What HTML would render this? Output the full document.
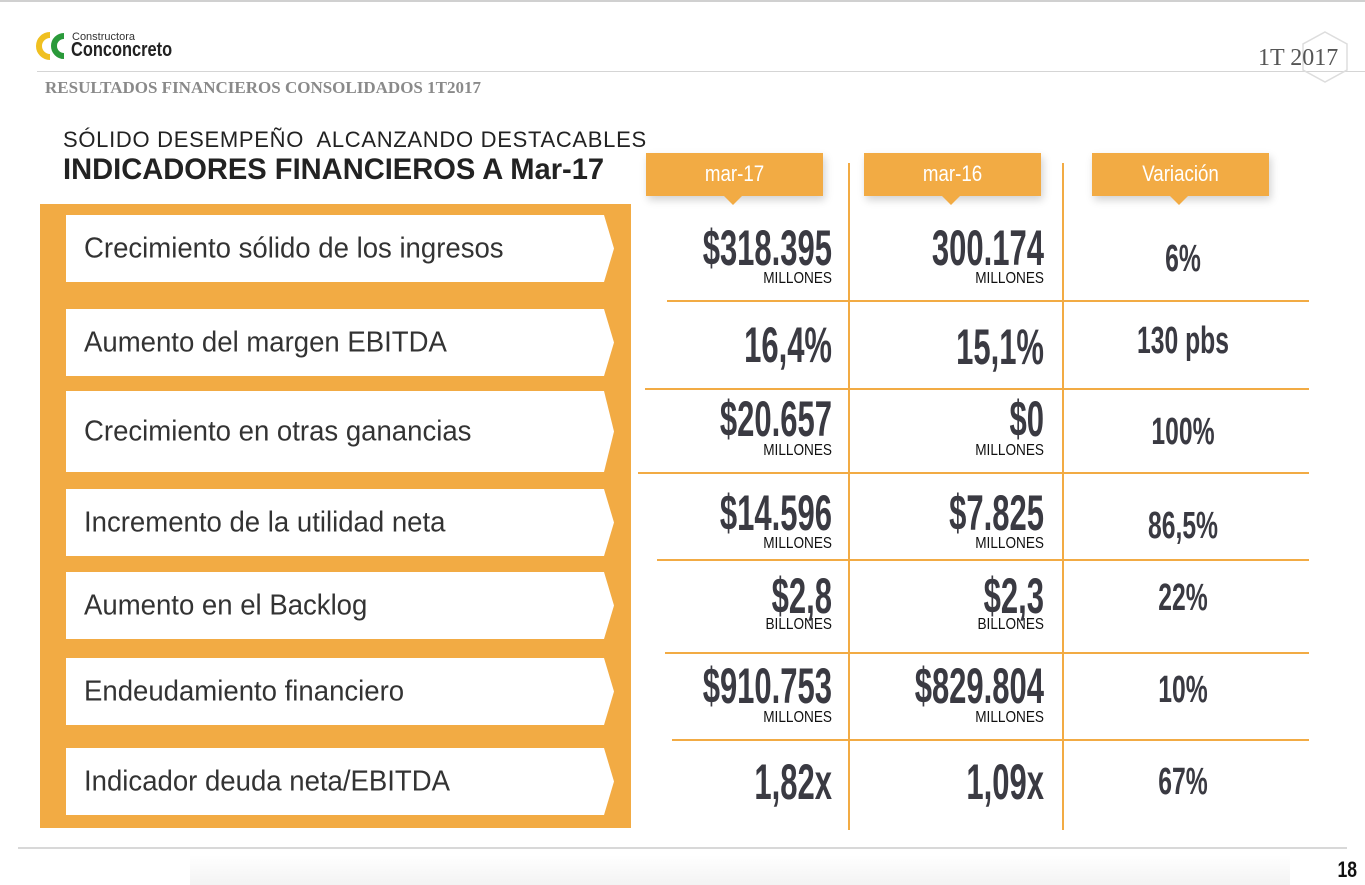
<!DOCTYPE html>
<html><head><meta charset="utf-8"><style>
*{margin:0;padding:0;box-sizing:border-box}
body{width:1365px;height:885px;position:relative;background:#fff;overflow:hidden;font-family:"Liberation Sans",sans-serif;color:#333}
.a{position:absolute}
.n{font-family:"Liberation Sans Narrow","Liberation Sans",sans-serif;white-space:nowrap}
.num{position:absolute;font-size:50px;line-height:50px;font-weight:bold;color:#3a3a42;transform:scaleX(0.62);transform-origin:right center;text-align:right;width:300px}
.unit{position:absolute;font-size:16px;line-height:16px;color:#111;text-align:right;width:200px;transform:scaleX(0.85);transform-origin:right center}
.var{position:absolute;font-size:38px;line-height:38px;font-weight:bold;color:#3a3a42;transform:scaleX(0.65);text-align:center;width:300px;left:1033px}
.box{position:absolute;left:66px;width:538px;background:#fff}
.box:after{content:"";position:absolute;right:-10px;top:0;bottom:0;width:10px;background:#fff;clip-path:polygon(0 0,0 100%,0 100%,100% 50%,0 0)}
.box span{position:absolute;left:18px;top:50%;transform:translateY(-50%) scaleX(0.95);transform-origin:left center;font-size:29px;color:#333}
.tab{position:absolute;top:153px;width:177px;height:43px;background:#f2ab44;box-shadow:2px 4px 8px rgba(0,0,0,.18)}
.tab span{display:block;color:#fff;font-size:22px;text-align:center;line-height:42px;transform:scaleX(0.85)}
.tab:after{content:"";position:absolute;left:78px;bottom:-9px;border-left:9px solid transparent;border-right:9px solid transparent;border-top:9px solid #f2ab44}
.h{position:absolute;height:1.5px;background:#f2ab44}
.v{position:absolute;width:1.5px;background:#f2ab44}
</style></head><body>
<div class="a" style="left:0;top:0;width:1365px;height:2px;background:#d0d0d0"></div>
<svg class="a" style="left:36px;top:32px" width="36" height="28"><path d="M14 3 A11 11 0 1 0 14 25" stroke="#f0c020" stroke-width="6" fill="none"/><path d="M28 4 A10 10 0 1 0 28 24" stroke="#2a9a3a" stroke-width="6" fill="none"/></svg>
<div class="a n" style="left:72px;top:31px;font-size:11px;color:#333">Constructora</div>
<div class="a n" style="left:71px;top:39px;font-size:20px;font-weight:bold;color:#222;transform:scaleX(0.82);transform-origin:left">Conconcreto</div>
<div class="a" style="left:37px;top:71px;width:1328px;height:1px;background:#d5d5d5"></div>
<svg class="a" style="left:1300px;top:30px" width="50" height="54"><polygon points="25,2 47,14 47,40 25,52 3,40 3,14" fill="none" stroke="#ddd" stroke-width="1.5"/></svg>
<div class="a" style="left:1258px;top:45px;font-family:'Liberation Serif',serif;font-size:24px;color:#555">1T 2017</div>
<div class="a" style="left:45px;top:78px;font-family:'Liberation Serif',serif;font-weight:bold;font-size:17px;color:#8a8a8a;white-space:nowrap">RESULTADOS FINANCIEROS CONSOLIDADOS 1T2017</div>
<div class="a" style="left:63px;top:127px;font-size:22px;letter-spacing:0.7px;color:#222;white-space:pre">SÓLIDO DESEMPEÑO  ALCANZANDO DESTACABLES</div>
<div class="a" style="left:63px;top:153px;font-size:30px;font-weight:bold;color:#222;white-space:nowrap;transform:scaleX(0.97);transform-origin:left">INDICADORES FINANCIEROS A Mar-17</div>

<div class="a" style="left:40px;top:204px;width:591px;height:624px;background:#f2ab44"></div>
<div class="box n" style="top:215px;height:67px"><span>Crecimiento sólido de los ingresos</span></div>
<div class="box n" style="top:309px;height:67px"><span>Aumento del margen EBITDA</span></div>
<div class="box n" style="top:391px;height:81px"><span>Crecimiento en otras ganancias</span></div>
<div class="box n" style="top:489px;height:67px"><span>Incremento de la utilidad neta</span></div>
<div class="box n" style="top:572px;height:67px"><span>Aumento en el Backlog</span></div>
<div class="box n" style="top:658px;height:67px"><span>Endeudamiento financiero</span></div>
<div class="box n" style="top:748px;height:67px"><span>Indicador deuda neta/EBITDA</span></div>

<div class="tab n" style="left:646px"><span>mar-17</span></div>
<div class="tab n" style="left:864px"><span>mar-16</span></div>
<div class="tab n" style="left:1092px"><span>Variación</span></div>

<div class="v" style="left:848px;top:163px;height:667px"></div>
<div class="v" style="left:1062px;top:163px;height:667px"></div>
<div class="h" style="left:667px;top:300px;width:642px"></div>
<div class="h" style="left:645px;top:388px;width:664px"></div>
<div class="h" style="left:638px;top:472px;width:671px"></div>
<div class="h" style="left:657px;top:559px;width:652px"></div>
<div class="h" style="left:665px;top:652px;width:644px"></div>
<div class="h" style="left:672px;top:739px;width:637px"></div>

<div class="num n" style="left:532px;top:223px">$318.395</div><div class="unit n" style="left:632px;top:271px">MILLONES</div>
<div class="num n" style="left:744px;top:223px">300.174</div><div class="unit n" style="left:844px;top:271px">MILLONES</div>
<div class="var n" style="top:240px">6%</div>

<div class="num n" style="left:532px;top:320px">16,4%</div>
<div class="num n" style="left:744px;top:322px">15,1%</div>
<div class="var n" style="top:322px">130 pbs</div>

<div class="num n" style="left:532px;top:394px">$20.657</div><div class="unit n" style="left:632px;top:443px">MILLONES</div>
<div class="num n" style="left:744px;top:394px">$0</div><div class="unit n" style="left:844px;top:443px">MILLONES</div>
<div class="var n" style="top:413px">100%</div>

<div class="num n" style="left:532px;top:488px">$14.596</div><div class="unit n" style="left:632px;top:536px">MILLONES</div>
<div class="num n" style="left:744px;top:488px">$7.825</div><div class="unit n" style="left:844px;top:536px">MILLONES</div>
<div class="var n" style="top:507px">86,5%</div>

<div class="num n" style="left:532px;top:571px">$2,8</div><div class="unit n" style="left:632px;top:617px">BILLONES</div>
<div class="num n" style="left:744px;top:571px">$2,3</div><div class="unit n" style="left:844px;top:617px">BILLONES</div>
<div class="var n" style="top:579px">22%</div>

<div class="num n" style="left:532px;top:661px">$910.753</div><div class="unit n" style="left:632px;top:710px">MILLONES</div>
<div class="num n" style="left:744px;top:661px">$829.804</div><div class="unit n" style="left:844px;top:710px">MILLONES</div>
<div class="var n" style="top:671px">10%</div>

<div class="num n" style="left:532px;top:757px">1,82x</div>
<div class="num n" style="left:744px;top:757px">1,09x</div>
<div class="var n" style="top:763px">67%</div>

<div class="a" style="left:18px;top:847px;width:1329px;height:2px;background:#d8d8d8"></div>
<div class="a" style="left:190px;top:855px;width:1100px;height:30px;background:linear-gradient(#fff,#f3f3f3)"></div>
<div class="a n" style="left:1335px;top:857px;font-size:22px;font-weight:bold;color:#111;transform:scaleX(0.8)">18</div>
</body></html>
